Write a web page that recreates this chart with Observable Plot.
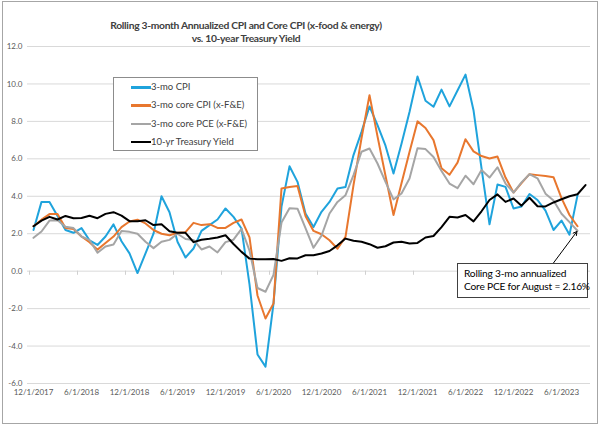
<!DOCTYPE html>
<html><head><meta charset="utf-8">
<script src="https://cdn.jsdelivr.net/npm/d3@7"></script>
<script src="https://cdn.jsdelivr.net/npm/@observablehq/plot@0.6"></script>
<style>
body{margin:0;background:#fff;font-family:Lato,"Open Sans",sans-serif;}
#wrap{position:relative;width:600px;height:426px;overflow:hidden;background:#fff;}
#wrap svg{position:absolute;left:0;top:0;}
#border{position:absolute;left:2px;top:1px;width:594px;height:421px;border:1px solid #a6a6a6;pointer-events:none;}
.title{position:absolute;left:46px;width:400px;text-align:center;font-size:10.3px;font-weight:bold;color:#404040;line-height:12px;letter-spacing:-0.3px;white-space:nowrap;}
#legend{position:absolute;left:113px;top:77px;width:143px;height:72px;border:1px solid #8c8c8c;background:#fff;}
.row{position:absolute;left:0;height:12px;font-size:9.5px;line-height:12px;color:#404040;white-space:nowrap;}
.sw{position:absolute;left:17px;top:5px;width:20px;height:2.5px;}
.lab{position:absolute;left:37px;top:0;}
#note{position:absolute;left:457px;top:263px;width:123px;height:30px;border:1px solid #404040;background:#fff;font-size:10.2px;line-height:12.5px;color:#000;padding:3px 0 0 6px;box-sizing:content-box;white-space:nowrap;letter-spacing:-0.2px;}
</style></head>
<body>
<div id="wrap">
  <div id="border"></div>
</div>
<script>
// Categories: monthly observations from 12/1/2017 through 9/1/2023
const startMonth = new Date(Date.UTC(2017, 11, 1));
const endMonth = new Date(Date.UTC(2023, 9, 1));
const months = d3.utcMonth.range(startMonth, endMonth);
const fmt = d => `${d.getUTCMonth() + 1}/1/${d.getUTCFullYear()}`;
const monthLabels = months.map(fmt);

const tickLabels = ["12/1/2017","6/1/2018","12/1/2018","6/1/2019","12/1/2019","6/1/2020",
  "12/1/2020","6/1/2021","12/1/2021","6/1/2022","12/1/2022","6/1/2023"];
const yTicks = [-6,-4,-2,0,2,4,6,8,10,12];

const titleLines = ["Rolling 3-month Annualized CPI and Core CPI (x-food & energy)", "vs. 10-year Treasury Yield"];
const seriesNames = ["3-mo CPI","3-mo core CPI (x-F&E)","3-mo core PCE (x-F&E)","10-yr Treasury Yield"];
const seriesColors = ["#1fa3dc","#e8772e","#a5a5a5","#000000"];
const noteLines = ["Rolling 3-mo annualized","Core PCE for August = 2.16%"];

// 3-mo annualized CPI (12/2017 .. 8/2023)
const cpi = [2.2,3.7,3.7,2.95,2.2,2.05,2.3,1.65,1.4,1.85,2.5,1.6,0.95,-0.1,0.95,2.0,4.0,3.15,
  1.57,0.73,1.21,2.15,2.46,2.76,3.35,2.9,2.28,-0.7,-4.45,-5.1,-1.73,3.45,5.6,4.77,3.08,2.36,
  3.17,3.7,4.42,4.5,6.2,7.44,8.8,7.8,6.7,5.22,6.8,8.5,10.4,9.1,8.78,9.7,8.8,9.65,10.5,8.6,
  5.5,2.5,4.63,4.5,3.35,3.45,4.12,3.8,3.23,2.2,2.7,1.95,4.05];
// 3-mo annualized core CPI
const coreCpi = [2.4,2.75,3.05,3.05,2.3,2.25,1.85,1.55,1.15,1.5,1.85,2.35,2.65,2.75,2.55,2.2,2.0,1.92,
  2.05,2.08,2.58,2.46,2.51,2.31,2.31,2.58,2.76,1.8,-1.3,-2.53,-1.73,4.42,4.5,4.55,2.95,2.15,
  1.97,1.65,1.2,1.83,4.6,7.1,9.4,7.2,5.1,3.0,4.7,6.36,8.0,7.65,7.0,5.5,5.15,5.8,7.05,6.4,
  6.15,6.02,6.12,5.0,4.2,4.7,5.18,5.13,5.08,5.02,3.9,3.0,2.4];
// 3-mo annualized core PCE
const corePce = [1.78,2.12,2.7,2.72,2.37,2.3,1.85,1.66,0.98,1.32,1.42,2.15,2.1,2.0,1.57,1.23,1.57,1.67,
  2.0,1.72,1.67,1.16,1.32,1.0,1.55,1.68,2.26,1.1,-0.9,-1.1,-0.2,2.6,3.36,3.34,2.3,1.25,
  1.9,3.08,3.7,4.06,5.13,6.38,6.55,5.75,4.77,3.83,4.15,4.95,6.57,6.52,6.1,5.35,4.68,4.43,5.1,4.64,
  5.4,5.0,5.55,4.68,4.2,4.74,5.18,4.96,4.14,3.78,3.07,2.62,2.16];
// 10-yr Treasury yield (12/2017 .. 9/2023)
const treasury = [2.4,2.7,2.9,2.76,2.95,2.83,2.84,2.96,2.83,3.06,3.15,2.97,2.67,2.67,2.72,2.46,2.5,2.13,
  2.05,2.05,1.55,1.68,1.73,1.8,1.92,1.45,1.03,0.67,0.64,0.64,0.65,0.55,0.69,0.68,0.85,0.85,
  0.94,1.08,1.38,1.74,1.62,1.57,1.44,1.25,1.33,1.53,1.57,1.48,1.51,1.8,1.88,2.35,2.9,2.87,3.0,2.66,
  3.2,3.8,4.1,3.7,3.88,3.5,3.92,3.47,3.46,3.67,3.84,4.0,4.11,4.6];

const series = [cpi, coreCpi, corePce, treasury];
const noteIndex = corePce.length - 1;

const wrap = document.getElementById("wrap");

const chart = Plot.plot({
  width: 600, height: 426,
  marginLeft: 27, marginRight: 10, marginTop: 46, marginBottom: 43,
  style: {fontFamily: "Lato, 'Open Sans', sans-serif", background: "transparent"},
  x: {type: "point", domain: monthLabels, padding: 0.5},
  y: {domain: [-6, 12]},
  marks: [
    Plot.gridY(yTicks, {stroke: "#d9d9d9", strokeOpacity: 1}),
    Plot.ruleX(tickLabels, {x: d => d, y1: 0, y2: -0.22, dx: -4, stroke: "#d0d0d0"}),
    Plot.axisY(yTicks, {tickSize: 0, tickPadding: 5, tickFormat: d => d.toFixed(1), fontSize: 8, color: "#595959"}),
    Plot.axisX(tickLabels, {tickSize: 0, tickPadding: 6, fontSize: 8, color: "#595959"}),
    ...series.map((s, k) => Plot.line(s, {
      x: (d, i) => monthLabels[i], y: d => d,
      stroke: seriesColors[k], strokeWidth: 2, curve: "linear"
    })),
    Plot.arrow([corePce[noteIndex]], {
      x1: () => monthLabels[noteIndex - 3], y1: () => 0.44,
      x2: () => monthLabels[noteIndex], y2: d => d,
      stroke: "#000", strokeWidth: 1, headLength: 6, insetEnd: 1
    })
  ]
});
wrap.insertBefore(chart, wrap.firstChild);

// Title
titleLines.forEach((t, i) => {
  const el = document.createElement("div");
  el.className = "title";
  el.style.top = (19 + i * 12.5) + "px";
  el.textContent = t;
  wrap.appendChild(el);
});

// Legend
const legend = document.createElement("div");
legend.id = "legend";
seriesNames.forEach((n, k) => {
  const row = document.createElement("div");
  row.className = "row";
  row.style.top = (3 + k * 18.3) + "px";
  const sw = document.createElement("div");
  sw.className = "sw";
  sw.style.background = seriesColors[k];
  const lab = document.createElement("div");
  lab.className = "lab";
  lab.textContent = n;
  row.appendChild(sw); row.appendChild(lab);
  legend.appendChild(row);
});
wrap.appendChild(legend);

// Annotation
const note = document.createElement("div");
note.id = "note";
note.innerHTML = noteLines.map(t => `<div>${t}</div>`).join("");
wrap.appendChild(note);
</script>
</body></html>
